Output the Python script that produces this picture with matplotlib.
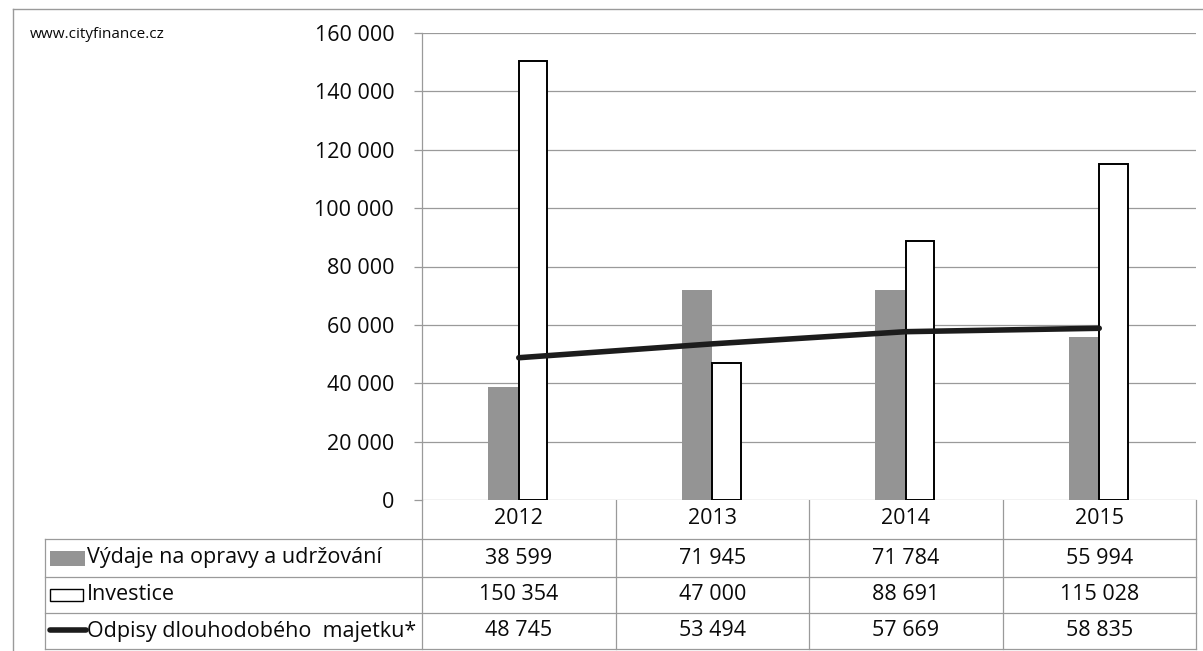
import matplotlib
matplotlib.use("Agg")
import matplotlib.pyplot as plt
from matplotlib.ticker import FuncFormatter, MultipleLocator
from matplotlib.transforms import blended_transform_factory
from matplotlib.patches import Rectangle
from matplotlib.lines import Line2D

plt.rcParams['font.family'] = ['Open Sans', 'DejaVu Sans']

years = ["2012", "2013", "2014", "2015"]
repairs = [38599, 71945, 71784, 55994]          # Výdaje na opravy a udržování
investments = [150354, 47000, 88691, 115028]    # Investice
depreciation = [48745, 53494, 57669, 58835]     # Odpisy dlouhodobého majetku*
series_names = ["Výdaje na opravy a udržování", "Investice",
                "Odpisy dlouhodobého  majetku*"]
source_note = "www.cityfinance.cz"

W, H = 1203, 651
GRAY_BAR = "#949494"
GRID = "#9a9a9a"
LINE = "#1c1c1c"
TXT = "#0a0a0a"
FS_NUM = 15.5
FS_LBL = 15.5


def fmt(v):
    return f"{int(v):,}".replace(",", " ")


fig = plt.figure(figsize=(W / 100, H / 100), dpi=100)
fig.patch.set_facecolor("white")

# pixel-space overlay for the data table and frame
tab = fig.add_axes([0, 0, 1, 1], zorder=0)
tab.set_xlim(0, W)
tab.set_ylim(H, 0)
tab.axis("off")

ax = fig.add_axes([422 / W, 1 - 500 / H, (1196 - 422) / W, (500 - 33) / H], zorder=1)
ax.set_facecolor("white")

x = list(range(len(years)))
bw = 0.157
ax.bar([i - bw for i in x], repairs, width=bw, align="edge",
       color=GRAY_BAR, edgecolor="none", zorder=2)
ax.bar(x, investments, width=bw * 0.93, align="edge",
       color="white", edgecolor="black", linewidth=1.4, zorder=3)
ax.plot(x, depreciation, color=LINE, linewidth=4.0,
        solid_capstyle="round", zorder=4)

ax.set_xlim(-0.5, len(years) - 0.5)
ax.set_ylim(0, 160000)
ax.yaxis.set_major_locator(MultipleLocator(20000))
ax.yaxis.set_major_formatter(FuncFormatter(lambda v, p: fmt(v)))
ax.grid(axis="y", color=GRID, linewidth=0.9, zorder=0)
ax.set_axisbelow(True)
ax.set_xticks([])
for s in ["top", "right", "bottom"]:
    ax.spines[s].set_visible(False)
ax.spines["left"].set_color(GRID)
ax.spines["left"].set_linewidth(0.9)
ax.tick_params(axis="y", length=6, width=0.9, color=GRID, pad=14,
               labelsize=FS_NUM, labelcolor=TXT)

# outer frame
tab.plot([13, 13], [9, H], color=GRID, lw=1.0)
tab.plot([13, W], [9, 9], color=GRID, lw=1.0)

tab.text(30, 35, source_note, fontsize=11, color=TXT,
         ha="left", va="center")

# data table below the plot
tr = blended_transform_factory(ax.transData, tab.transData)
n = len(years)
row_lines = [539, 577, 613, 649]
row_centres = [558, 595, 631]
for k in range(n + 1):
    tab.plot([k - 0.5, k - 0.5], [500, 649], color=GRID, lw=0.9,
             transform=tr, clip_on=False)
left_px = 45
right_px = ax.transData.transform((n - 0.5, 0))[0]
for y in row_lines:
    tab.plot([left_px, right_px], [y, y], color=GRID, lw=0.9)
tab.plot([left_px, left_px], [539, 649], color=GRID, lw=0.9)

for i, yr in enumerate(years):
    tab.text(i, 519, yr, transform=tr, ha="center", va="center",
             fontsize=FS_NUM, color=TXT, clip_on=False)

for vals, yc in zip([repairs, investments, depreciation], row_centres):
    for i, v in enumerate(vals):
        tab.text(i, yc, fmt(v), transform=tr, ha="center", va="center",
                 fontsize=FS_NUM, color=TXT, clip_on=False)

# series keys in the table's first column
tab.add_patch(Rectangle((50, 551), 35, 15, facecolor=GRAY_BAR, edgecolor="none"))
tab.add_patch(Rectangle((50, 589), 33, 12, facecolor="white",
                        edgecolor="black", linewidth=1.0))
tab.add_line(Line2D([50, 86], [630, 630], color=LINE, linewidth=4.0,
                    solid_capstyle="round"))
for name, yc in zip(series_names, row_centres):
    tab.text(87, yc, name, ha="left", va="center", fontsize=FS_LBL,
             color=TXT)

fig.savefig("out.png", dpi=100, facecolor="white")
